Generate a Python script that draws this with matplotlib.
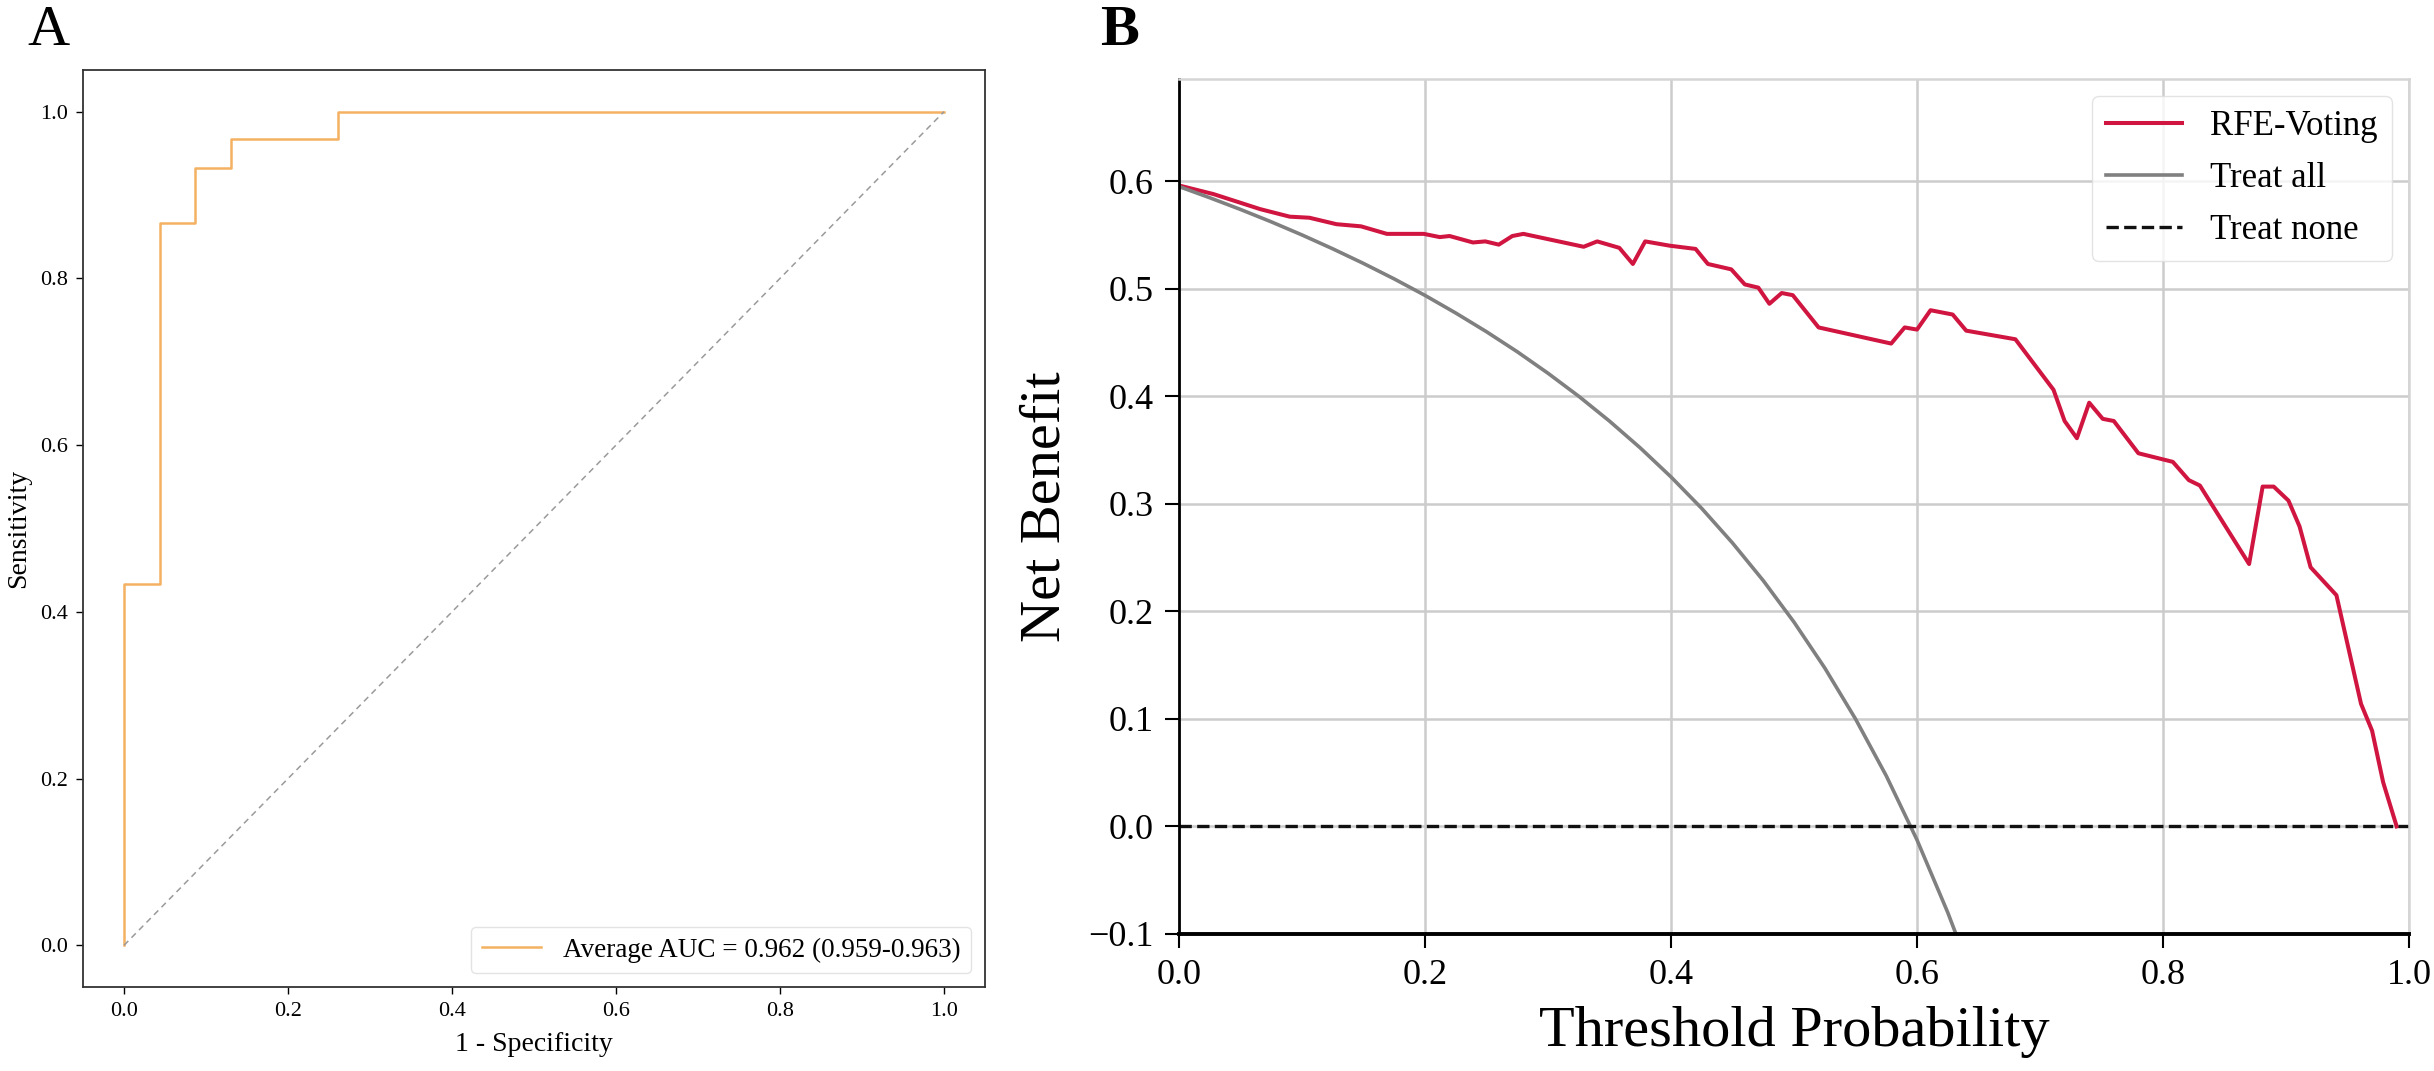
import matplotlib
matplotlib.use("Agg")
import matplotlib.pyplot as plt
import numpy as np

plt.rcParams['font.family'] = ['Liberation Serif', 'DejaVu Serif']
plt.rcParams['axes.unicode_minus'] = True

# ---------------- Panel A data (ROC) ----------------
roc_fpr = [0.0, 0.0, 0.0435, 0.087, 0.130, 0.261, 1.0]
roc_tpr = [0.0, 0.433, 0.867, 0.933, 0.967, 1.0, 1.0]
roc_label = "Average AUC = 0.962 (0.959-0.963)"
roc_ticks = [0.0, 0.2, 0.4, 0.6, 0.8, 1.0]

# ---------------- Panel B data (DCA) ----------------
thr_model = [0, 0.028, 0.066, 0.090, 0.106, 0.128, 0.148, 0.169, 0.199, 0.212,
             0.220, 0.239, 0.249, 0.260, 0.271, 0.280, 0.329, 0.340, 0.358, 0.369,
             0.379, 0.399, 0.420, 0.430, 0.449, 0.460, 0.471, 0.480, 0.490, 0.499,
             0.520, 0.579, 0.590, 0.600, 0.611, 0.629, 0.640, 0.680, 0.711, 0.720,
             0.730, 0.740, 0.751, 0.760, 0.780, 0.808, 0.821, 0.830, 0.870, 0.881,
             0.890, 0.902, 0.911, 0.920, 0.941, 0.961, 0.970, 0.979, 0.990]
nb_model = [0.596, 0.588, 0.574, 0.567, 0.566, 0.560, 0.558, 0.551, 0.551, 0.548,
            0.549, 0.543, 0.544, 0.541, 0.549, 0.551, 0.539, 0.544, 0.538, 0.523,
            0.544, 0.540, 0.537, 0.523, 0.518, 0.504, 0.501, 0.486, 0.496, 0.494,
            0.464, 0.449, 0.464, 0.462, 0.480, 0.476, 0.461, 0.453, 0.406, 0.377,
            0.361, 0.394, 0.379, 0.377, 0.347, 0.339, 0.322, 0.317, 0.244, 0.316,
            0.316, 0.303, 0.279, 0.241, 0.215, 0.114, 0.089, 0.041, 0.0]

thr_all = [0.0, 0.025, 0.05, 0.075, 0.1, 0.125, 0.15, 0.175, 0.2, 0.225, 0.25,
           0.275, 0.3, 0.325, 0.35, 0.375, 0.4, 0.425, 0.45, 0.475, 0.5, 0.525,
           0.55, 0.575, 0.6, 0.625, 0.64]
nb_all = [0.595, 0.5846, 0.5737, 0.5622, 0.550, 0.5371, 0.5235, 0.5091, 0.4938,
          0.4774, 0.460, 0.4414, 0.4214, 0.400, 0.3769, 0.352, 0.325, 0.2957,
          0.2636, 0.2286, 0.190, 0.1474, 0.100, 0.0471, -0.0125, -0.080, -0.125]

thr_none = [0.0, 1.0]
nb_none = [0.0, 0.0]

series_labels = ["RFE-Voting", "Treat all", "Treat none"]
dca_xticks = [0.0, 0.2, 0.4, 0.6, 0.8, 1.0]
dca_yticks = [-0.1, 0.0, 0.1, 0.2, 0.3, 0.4, 0.5, 0.6]

W, H = 2434, 1071
DPI = 100
fig = plt.figure(figsize=(W / DPI, H / DPI), dpi=DPI)

# ---------------- Panel A ----------------
axA = fig.add_axes([83 / W, 1 - 987 / H, (985 - 83) / W, (987 - 70) / H])
axA.plot(roc_fpr, roc_tpr, drawstyle='steps-post', color='#F4B162', lw=1.8,
         label=roc_label)
axA.plot([0, 1], [0, 1], linestyle=(0, (4, 3)), color='#9a9a9a', lw=1.1)
axA.set_xlim(-0.05, 1.05)
axA.set_ylim(-0.05, 1.05)
axA.set_xticks(roc_ticks)
axA.set_yticks(roc_ticks)
axA.set_xticklabels([f"{t:.1f}" for t in roc_ticks])
axA.set_yticklabels([f"{t:.1f}" for t in roc_ticks])
axA.tick_params(labelsize=16, length=5, width=1.0, direction='out', pad=6)
for s in axA.spines.values():
    s.set_color('#333333')
    s.set_linewidth(1.3)
axA.set_xlabel("1 - Specificity", fontsize=20, labelpad=8)
axA.set_ylabel("Sensitivity", fontsize=20, labelpad=6)
legA = axA.legend(loc='lower right', fontsize=19.5, handlelength=2.2,
                  frameon=True, borderaxespad=0.5)
legA.get_frame().set_edgecolor('#dddddd')

# ---------------- Panel B ----------------
axB = fig.add_axes([1179 / W, 1 - 934 / H, (2409 - 1179) / W, (934 - 79) / H])
axB.set_axisbelow(True)
axB.grid(True, color='#cccccc', lw=1.8)
axB.plot(thr_model, nb_model, color='#D01640', lw=2.9, label=series_labels[0])
axB.plot(thr_all, nb_all, color='#808080', lw=2.6, label=series_labels[1])
axB.plot(thr_none, nb_none, color='#111111', lw=2.4, linestyle='--',
         label=series_labels[2])
axB.set_xlim(0, 1)
axB.set_ylim(-0.1, 0.695)
axB.set_xticks(dca_xticks)
axB.set_yticks(dca_yticks)
axB.set_xticklabels([f"{t:.1f}" for t in dca_xticks])
axB.set_yticklabels([f"{t:.1f}".replace("-", "\u2212") for t in dca_yticks])
axB.tick_params(labelsize=26, length=10, width=1.5, direction='out', pad=8)
axB.spines['left'].set_color('black')
axB.spines['left'].set_linewidth(2.0)
axB.spines['bottom'].set_color('black')
axB.spines['bottom'].set_linewidth(2.8)
axB.spines['top'].set_color('#d5d5d5')
axB.spines['right'].set_color('#d5d5d5')
axB.spines['top'].set_linewidth(1.8)
axB.spines['right'].set_linewidth(1.8)
axB.set_xlabel("Threshold Probability", fontsize=42, labelpad=10)
axB.set_ylabel("Net Benefit", fontsize=42, labelpad=12)
legB = axB.legend(loc='upper right', fontsize=25, handlelength=2.2,
                  frameon=True, borderaxespad=0.5, labelspacing=0.55)
legB.get_frame().set_edgecolor('#dddddd')

# ---------------- Panel letters ----------------
fig.text(27 / W, 1 - 45 / H, "A", fontsize=42, va='baseline', ha='left')
fig.text(1100 / W, 1 - 45 / H, "B", fontsize=42, va='baseline', ha='left',
         fontweight='bold')

fig.savefig("out.png", dpi=DPI)
